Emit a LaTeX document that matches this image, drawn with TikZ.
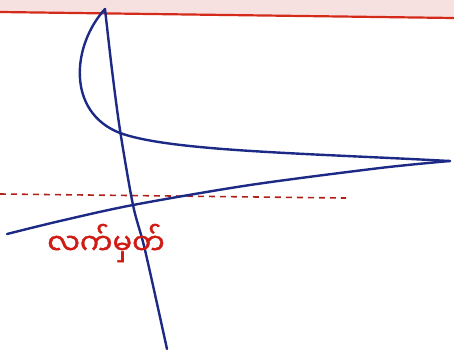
\documentclass[tikz,border=0pt]{standalone}
\usepackage{fontspec}
\newfontfamily\myfont[Script=Myanmar,FakeBold=1.2]{Noto Sans Myanmar UI}
\definecolor{pinkbg}{HTML}{F6E0E0}
\definecolor{redline}{HTML}{D42A1A}
\definecolor{dashred}{HTML}{B02018}
\definecolor{ink}{HTML}{1C2A86}
\definecolor{txtred}{HTML}{D01A14}
\tikzset{
  inkline/.style={draw=ink, line width=2.4pt, line cap=round, line join=round},
  rline/.style={draw=redline, line width=2.2pt},
  dline/.style={draw=dashred, line width=1.6pt, dash pattern=on 6pt off 5pt},
  lbl/.style={text=txtred, font=\myfont\fontsize{29}{32}\selectfont, inner sep=0pt}
}
\begin{document}
\begin{tikzpicture}[x=1pt,y=-1pt]
\useasboundingbox (0,0) rectangle (454,349);
\fill[white] (0,0) rectangle (454,349);
\fill[pinkbg] (0,0) -- (454,0) -- (454,18) -- (0,12) -- cycle;
\draw[rline] (0,12) -- (454,18);
\coordinate (apex) at (105,9);
\coordinate (tip) at (450,161);
\coordinate (knee) at (120,133);
% dashed line
\draw[dline] (0,194) -- (346,198);
% upper curve
\draw[inkline] (apex) .. controls (72,45) and (66,112) .. (knee)
  .. controls (170,151) and (300,153) .. (tip);
% lower line
\draw[inkline] plot[smooth, tension=0.5] coordinates {(450,161) (380,168) (250,185) (133,205) (60,221) (7,234)};
% steep line
\draw[inkline] plot[smooth, tension=0.5] coordinates {(105,9) (112,70) (120,130) (133,205) (145,250) (167,349)};
\node[lbl] (label) at (106,243) {လက်မှတ်};
\end{tikzpicture}
\end{document}
